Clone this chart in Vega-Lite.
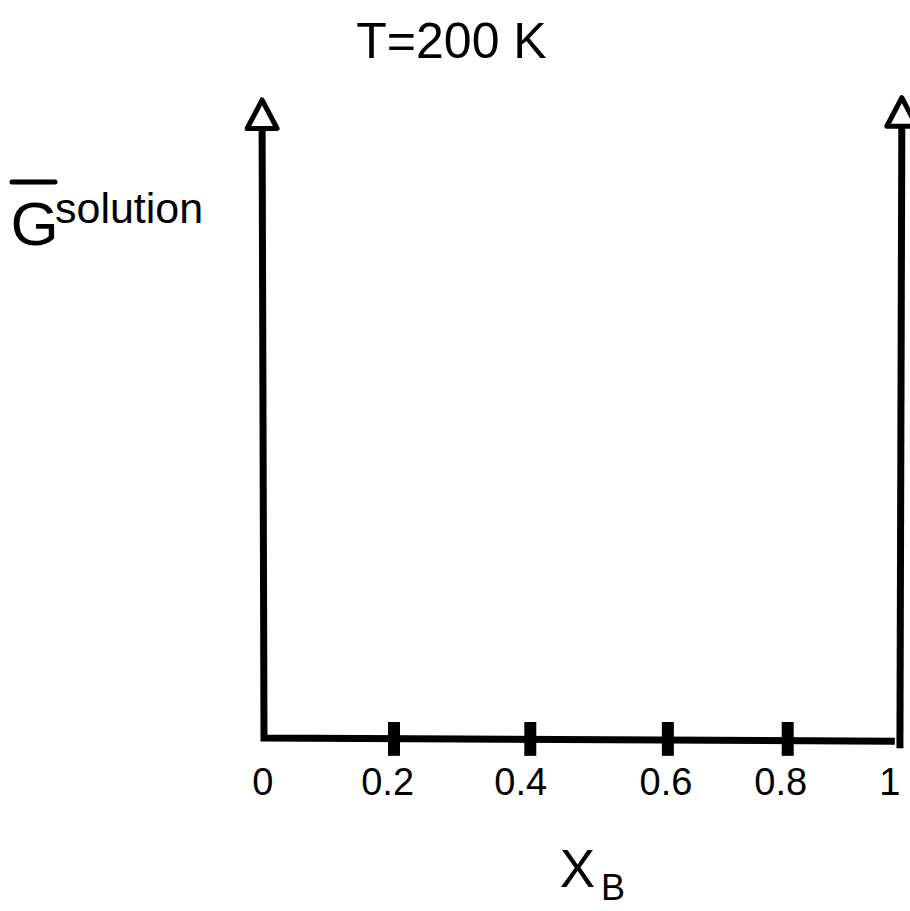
{
  "$schema": "https://vega.github.io/schema/vega-lite/v6.json",
  "width": 910,
  "height": 911,
  "autosize": {"type": "none"},
  "padding": 0,
  "background": "white",
  "config": {"view": {"stroke": null}, "text": {"font": "Liberation Sans", "color": "black"}},
  "datasets": {
    "axes": [
      {"part": "a", "ord": 1, "x": -0.003, "y": 0.957},
      {"part": "a", "ord": 2, "x": 0.0, "y": 0.0},
      {"part": "a", "ord": 3, "x": 0.995, "y": -0.005},
      {"part": "b", "ord": 1, "x": 1.003, "y": -0.016},
      {"part": "b", "ord": 2, "x": 1.006, "y": 0.962}
    ],
    "heads": [
      {"x": -0.003, "y": 0.9765},
      {"x": 1.006, "y": 0.98}
    ],
    "ticks": [
      {"x": 0.205, "y": 0.025, "y2": -0.028},
      {"x": 0.42, "y": 0.025, "y2": -0.028},
      {"x": 0.637, "y": 0.025, "y2": -0.028},
      {"x": 0.826, "y": 0.025, "y2": -0.028}
    ],
    "overbar": [
      {"x": -0.3975, "x2": -0.3297, "y": 0.8715}
    ],
    "texts": [
      {"role": "tick", "text": "0", "x": -0.002, "y": -0.0893},
      {"role": "tick", "text": "0.2", "x": 0.195, "y": -0.0893},
      {"role": "tick", "text": "0.4", "x": 0.405, "y": -0.0893},
      {"role": "tick", "text": "0.6", "x": 0.634, "y": -0.0893},
      {"role": "tick", "text": "0.8", "x": 0.815, "y": -0.0893},
      {"role": "tick", "text": "1", "x": 0.987, "y": -0.0893},
      {"role": "title", "text": "T=200 K", "x": 0.2957, "y": 1.0658},
      {"role": "G", "text": "G", "x": -0.4, "y": 0.7727},
      {"role": "sup", "text": "solution", "x": -0.3297, "y": 0.8072},
      {"role": "X", "text": "X", "x": 0.4665, "y": -0.2335},
      {"role": "sub", "text": "B", "x": 0.5315, "y": -0.2545}
    ]
  },
  "encoding": {
    "x": {"field": "x", "type": "quantitative", "scale": {"domain": [-0.4164, 1.0189], "nice": false, "zero": false}, "axis": null},
    "y": {"field": "y", "type": "quantitative", "scale": {"domain": [-0.2712, 1.1567], "nice": false, "zero": false}, "axis": null}
  },
  "layer": [
    {
      "data": {"name": "axes"},
      "mark": {"type": "line", "color": "black", "strokeWidth": 7, "strokeJoin": "miter", "strokeCap": "butt"},
      "encoding": {"detail": {"field": "part"}, "order": {"field": "ord", "type": "quantitative"}}
    },
    {
      "data": {"name": "ticks"},
      "mark": {"type": "rule", "color": "black", "strokeWidth": 12, "strokeCap": "butt"},
      "encoding": {"y2": {"field": "y2"}}
    },
    {
      "data": {"name": "heads"},
      "mark": {"type": "point", "shape": "M0,-1L1,0.9L-1,0.9Z", "size": 900, "filled": false, "fill": "white", "fillOpacity": 1, "stroke": "black", "strokeWidth": 5, "strokeJoin": "round", "opacity": 1},
      "encoding": {}
    },
    {
      "data": {"name": "overbar"},
      "mark": {"type": "rule", "color": "black", "strokeWidth": 5, "strokeCap": "round"},
      "encoding": {"x2": {"field": "x2"}}
    },
    {
      "data": {"name": "texts"},
      "transform": [{"filter": "datum.role === 'tick'"}],
      "mark": {"type": "text", "fontSize": 38, "align": "center", "baseline": "alphabetic"},
      "encoding": {"text": {"field": "text"}}
    },
    {
      "data": {"name": "texts"},
      "transform": [{"filter": "datum.role === 'title'"}],
      "mark": {"type": "text", "fontSize": 50, "align": "center", "baseline": "alphabetic"},
      "encoding": {"text": {"field": "text"}}
    },
    {
      "data": {"name": "texts"},
      "transform": [{"filter": "datum.role === 'G'"}],
      "mark": {"type": "text", "fontSize": 62, "align": "left", "baseline": "alphabetic"},
      "encoding": {"text": {"field": "text"}}
    },
    {
      "data": {"name": "texts"},
      "transform": [{"filter": "datum.role === 'sup'"}],
      "mark": {"type": "text", "fontSize": 43, "align": "left", "baseline": "alphabetic"},
      "encoding": {"text": {"field": "text"}}
    },
    {
      "data": {"name": "texts"},
      "transform": [{"filter": "datum.role === 'X'"}],
      "mark": {"type": "text", "fontSize": 53, "align": "left", "baseline": "alphabetic"},
      "encoding": {"text": {"field": "text"}}
    },
    {
      "data": {"name": "texts"},
      "transform": [{"filter": "datum.role === 'sub'"}],
      "mark": {"type": "text", "fontSize": 36, "align": "left", "baseline": "alphabetic"},
      "encoding": {"text": {"field": "text"}}
    }
  ]
}
